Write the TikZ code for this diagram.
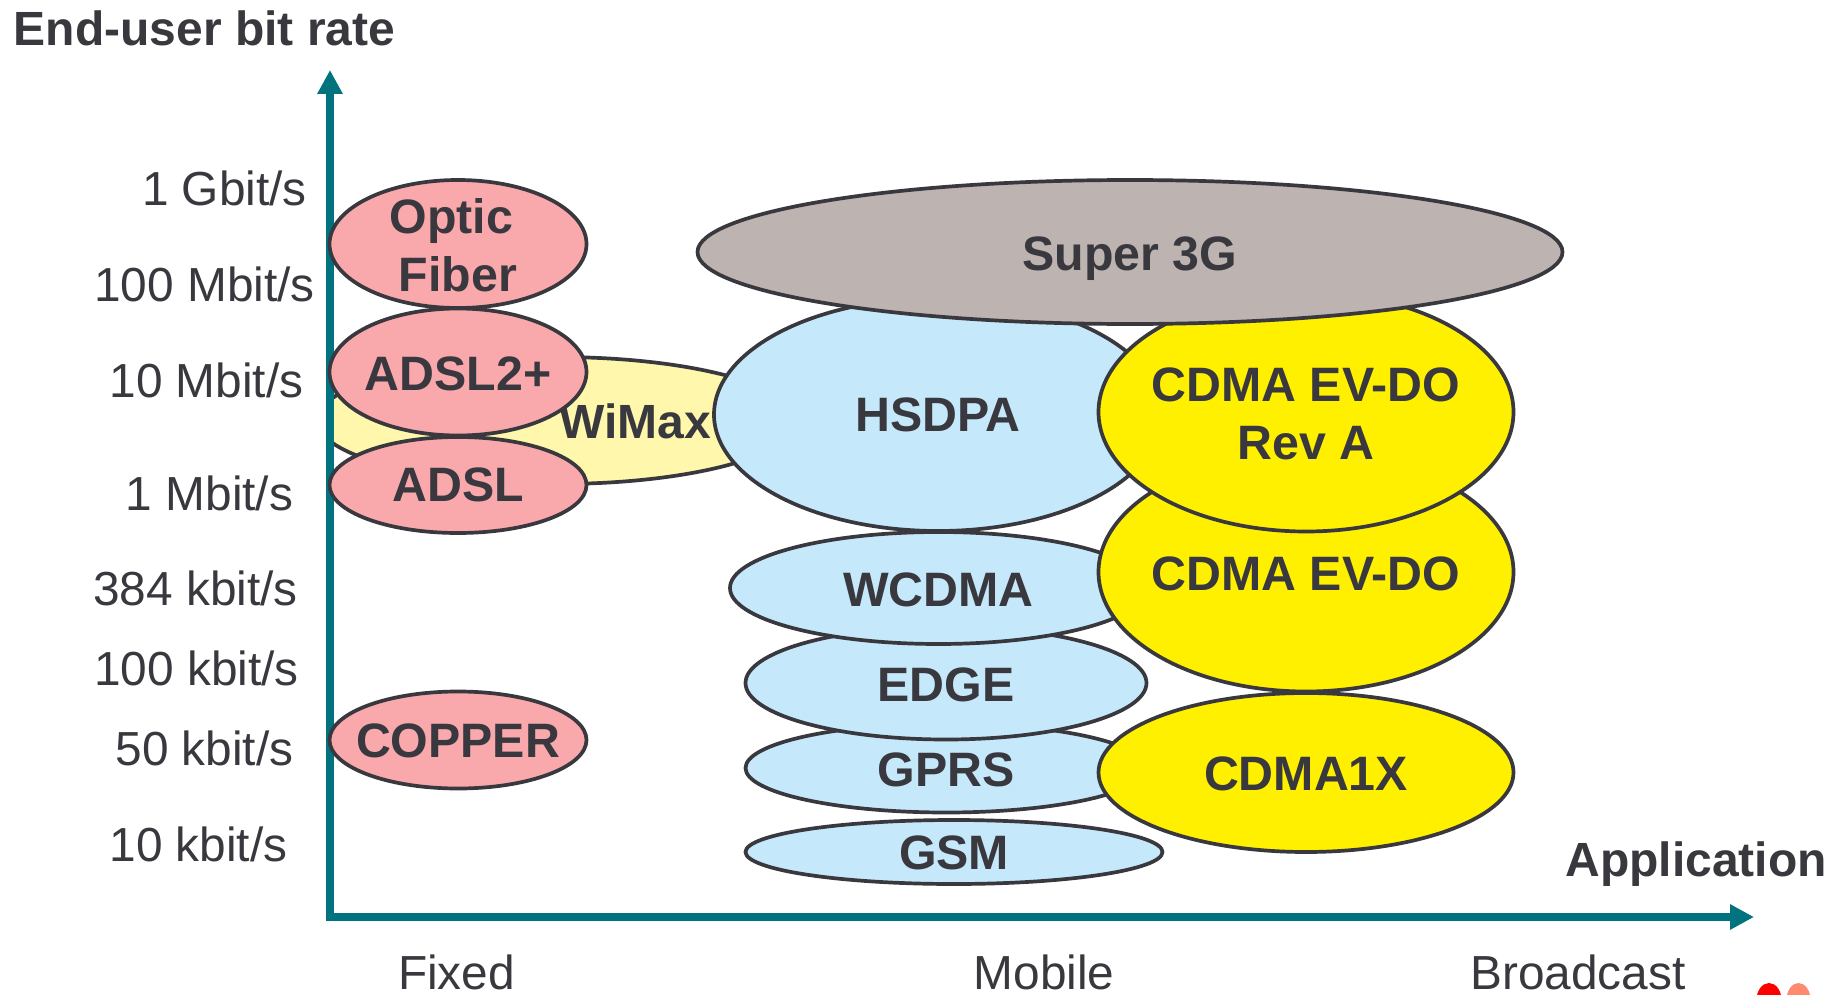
\documentclass[tikz,border=0pt]{standalone}
\usepackage{fontspec}
\setmainfont{Liberation Sans}
\usetikzlibrary{shapes.geometric,arrows.meta}
\definecolor{ink}{HTML}{38383E}
\definecolor{axisc}{HTML}{00737F}
\definecolor{pinkf}{HTML}{F9A8AC}
\definecolor{paley}{HTML}{FFF7AB}
\definecolor{bluef}{HTML}{C5E9FA}
\definecolor{yellowf}{HTML}{FFF000}
\definecolor{greyf}{HTML}{BDB3B0}
\definecolor{logop}{HTML}{FF8A70}
\newcommand{\tallrule}[1]{\rule{0pt}{#1pt}}
\tikzset{
  x=1pt,y=-1pt,
  ell/.style={ellipse,draw=ink,line width=3.7pt,inner sep=-60pt,text=ink,align=center,
    font=\fontsize{48.3}{58}\selectfont\bfseries},
  ax/.style={draw=axisc,line width=8pt,-{Triangle[length=24pt,width=24pt]}},
  tick/.style={text=ink,inner sep=0pt,font=\fontsize{47.8}{57}\selectfont},
  head/.style={text=ink,inner sep=0pt,font=\fontsize{48}{57}\selectfont\bfseries},
}
\begin{document}
\begin{tikzpicture}
\useasboundingbox (0,0) rectangle (1838,995);
\coordinate (origin) at (330,917);
\coordinate (ytip) at (330,70);
\coordinate (xtip) at (1754,917);
% WiMax under the axis
\begin{scope}
\clip (330,300) rectangle (900,540);
\node[ell,fill=paley,minimum width=480pt,minimum height=127pt] (wimax) at (557,420.5) {};
\end{scope}
\draw[ax] (origin) -- (ytip);
\draw[ax] ([xshift=-4pt]origin) -- (xtip);
\node[head] (wimaxl) at (635,421) {WiMax};
% fixed
\node[ell,fill=pinkf,minimum width=257pt,minimum height=128pt] (optic) at (458,244) {\tallrule{37}Optic\hspace*{13pt}\\Fiber};
\node[ell,fill=pinkf,minimum width=257pt,minimum height=127pt] (adslp) at (458,372) {\tallrule{38}ADSL2+};
\node[ell,fill=pinkf,minimum width=257pt,minimum height=96pt] (adsl) at (458,485) {ADSL};
\node[ell,fill=pinkf,minimum width=257pt,minimum height=97pt] (copper) at (458,740) {\tallrule{36}COPPER};
% mobile
\node[ell,fill=bluef,minimum width=417pt,minimum height=64pt] (gsm) at (954,852) {\tallrule{36}GSM};
\node[ell,fill=bluef,minimum width=401pt,minimum height=89pt] (gprs) at (946,768) {\tallrule{38}GPRS};
\node[ell,fill=bluef,minimum width=401pt,minimum height=113pt] (edge) at (946,683) {\tallrule{38}EDGE};
\node[ell,fill=bluef,minimum width=417pt,minimum height=112pt] (wcdma) at (938.5,588) {\tallrule{38}WCDMA};
\node[ell,fill=bluef,minimum width=448pt,minimum height=233pt] (hsdpa) at (938,414.5) {HSDPA};
% broadcast
\node[ell,fill=yellowf,minimum width=415pt,minimum height=159pt] (cdmax) at (1306,772.5) {\tallrule{36}CDMA1X};
\node[ell,fill=yellowf,minimum width=415pt,minimum height=239pt] (evdo) at (1306,572) {\tallrule{38}CDMA EV-DO};
\node[ell,fill=yellowf,minimum width=415pt,minimum height=239pt] (reva) at (1306,412) {\tallrule{38}CDMA EV-DO\\Rev A};
\node[ell,fill=greyf,minimum width=865pt,minimum height=144pt] (s3g) at (1130,252) {\tallrule{47}Super 3G};
% axis labels
\node[tick] (a) at (224.5,188.5) {1 Gbit/s};
\node[tick] (b) at (204.5,284.5) {100 Mbit/s};
\node[tick] (c) at (206.5,380.5) {10 Mbit/s};
\node[tick] (d) at (209.5,493) {1 Mbit/s};
\node[tick] (e) at (195.5,588.5) {384 kbit/s};
\node[tick] (f) at (196.5,668.5) {100 kbit/s};
\node[tick] (g) at (204.5,748.5) {50 kbit/s};
\node[tick] (h) at (198.5,844.5) {10 kbit/s};
\node[tick] (fixed) at (456.5,972.5) {Fixed};
\node[tick] (mobile) at (1044,972.5) {Mobile};
\node[tick] (broad) at (1578,972.5) {Broadcast};
\node[head] (app) at (1696,864.5) {Application};
\node[head] (eubr) at (204.5,28) {End-user bit rate};
% logo fragment
\begin{scope}
\clip (0,0) rectangle (1838,995);
\fill[red] (1769,1000) ellipse [x radius=12.5pt,y radius=17pt];
\fill[logop] (1798.5,1000) ellipse [x radius=12pt,y radius=17pt];
\end{scope}
\end{tikzpicture}
\end{document}
